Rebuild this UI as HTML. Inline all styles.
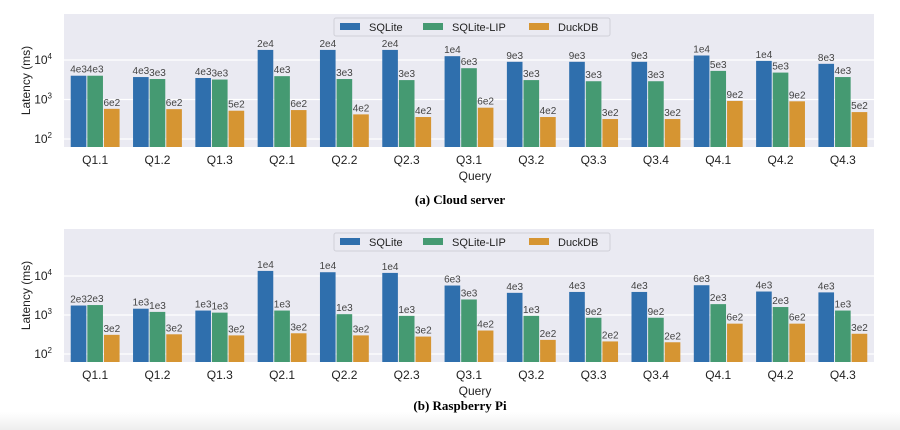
<!DOCTYPE html>
<html><head><meta charset="utf-8">
<style>
body{margin:0;width:900px;height:430px;overflow:hidden;font-family:"Liberation Sans",sans-serif;background:#fff}
svg{position:absolute;left:0;top:0}
.cap{position:absolute;width:900px;text-align:center;font-family:"Liberation Serif",serif;font-weight:bold;font-size:13px;left:10px}
#fade{position:absolute;left:0;top:412px;width:900px;height:18px;background:linear-gradient(#fff,#eee)}
</style></head>
<body>
<div id="fade"></div>
<svg id="s" width="900" height="430"></svg>
<div class="cap" style="top:192px">(a) Cloud server</div>
<div class="cap" style="top:398px">(b) Raspberry Pi</div>
<script>
const categories=["Q1.1","Q1.2","Q1.3","Q2.1","Q2.2","Q2.3","Q3.1","Q3.2","Q3.3","Q3.4","Q4.1","Q4.2","Q4.3"];
const seriesNames=["SQLite","SQLite-LIP","DuckDB"];
const cloudSQLite=[4000,3700,3500,18000,18000,18000,12500,9000,9000,9000,13000,9500,8000];
const cloudLIP=[4000,3300,3200,3900,3300,3100,6200,3100,2900,2900,5300,4800,3700];
const cloudDuck=[580,570,520,540,420,360,620,360,320,320,920,900,480];
const cloudSQLiteLbl=["4e3","4e3","4e3","2e4","2e4","2e4","1e4","9e3","9e3","9e3","1e4","1e4","8e3"];
const cloudLIPLbl=["4e3","3e3","3e3","4e3","3e3","3e3","6e3","3e3","3e3","3e3","5e3","5e3","4e3"];
const cloudDuckLbl=["6e2","6e2","5e2","6e2","4e2","4e2","6e2","4e2","3e2","3e2","9e2","9e2","5e2"];
const piSQLite=[1750,1450,1300,13500,12500,12000,5700,3700,3900,3900,5800,4000,3800];
const piLIP=[1800,1200,1150,1300,1050,950,2500,950,850,850,1900,1600,1300];
const piDuck=[310,320,300,340,300,280,400,230,210,200,600,600,330];
const piSQLiteLbl=["2e3","1e3","1e3","1e4","1e4","1e4","6e3","4e3","4e3","4e3","6e3","4e3","4e3"];
const piLIPLbl=["2e3","1e3","1e3","1e3","1e3","1e3","3e3","1e3","9e2","9e2","2e3","2e3","1e3"];
const piDuckLbl=["3e2","3e2","3e2","3e2","3e2","3e2","4e2","2e2","2e2","2e2","6e2","6e2","3e2"];
const yTicks=[2,3,4];

const NS="http://www.w3.org/2000/svg";
const svg=document.getElementById('s');
const colors=["#2f6fad","#459a72","#d69532"];
function mk(tag,attrs,parent){const e=document.createElementNS(NS,tag);for(const k in attrs)e.setAttribute(k,attrs[k]);(parent||svg).appendChild(e);return e;}

function chart(prefix,top,bottom,grid4,decade,series,labels){
  const g=mk('g',{});
  
  
  const x0=64,x1=874;
  const y=v=>grid4+(4-Math.log10(v))*decade;
  const step=(x1-x0)/categories.length;
  const xc=i=>x0+step*(i+0.5);
  const bg=mk('rect',{x:x0,y:top,width:x1-x0,height:bottom-top,fill:"#eaeaf2"},g);
  
  
  yTicks.forEach(t=>{
    const yy=y(Math.pow(10,t));
    const ln=mk('line',{x1:x0,x2:x1,y1:yy,y2:yy,stroke:"#fff","stroke-width":1.2},g);
    
    
    const tx=mk('text',{x:x0-12,y:yy+4,"font-size":12,fill:"#222","text-anchor":"end"},g);
    
    
    tx.textContent="10";
    const sup=mk('tspan',{dy:-5,"font-size":8},tx);sup.textContent=String(t);
  });
  const bw=step*0.8/3;
  categories.forEach((c,i)=>{
    series.forEach((s,k)=>{
      const bx=xc(i)-step*0.4+k*bw;
      const by=y(s[i]);
      const r=mk('rect',{x:bx+0.5,y:by,width:bw-1,height:bottom-by,fill:colors[k]},g);
      
      
      const t=mk('text',{x:bx,y:by-3,"font-size":10,fill:"#444"},g);
      
      
      t.textContent=labels[k][i];
    });
    const tl=mk('text',{x:xc(i),y:bottom+17,"font-size":12,fill:"#222","text-anchor":"middle"},g);
    
    
    tl.textContent=c;
  });
  const xt=mk('text',{x:(x0+x1)/2+6,y:bottom+33,"font-size":12,fill:"#222","text-anchor":"middle"},g);
  
  
  xt.textContent="Query";
  const yt=mk('text',{x:0,y:0,"font-size":12,fill:"#222","text-anchor":"middle",transform:`translate(30,${(top+bottom)/2}) rotate(-90)`},g);
  
  
  yt.textContent="Latency (ms)";
  const lg=mk('g',{},g);
  
  
  mk('rect',{x:334,y:top+4,width:276,height:18,fill:"#eaeaf2",stroke:"#d0d0d8",rx:2},lg);
  const lx=[340,423,529];
  seriesNames.forEach((n,k)=>{
    const e=mk('g',{},lg);
    
    
    mk('rect',{x:lx[k],y:top+9,width:20,height:7,fill:colors[k]},e);
    const t=mk('text',{x:lx[k]+29,y:top+17,"font-size":11,fill:"#222"},e);
    t.textContent=n;
  });
}
chart('cloud',14,147,60,39.5,[cloudSQLite,cloudLIP,cloudDuck],[cloudSQLiteLbl,cloudLIPLbl,cloudDuckLbl]);
chart('pi',229,362,276,39,[piSQLite,piLIP,piDuck],[piSQLiteLbl,piLIPLbl,piDuckLbl]);
</script>
</body></html>
